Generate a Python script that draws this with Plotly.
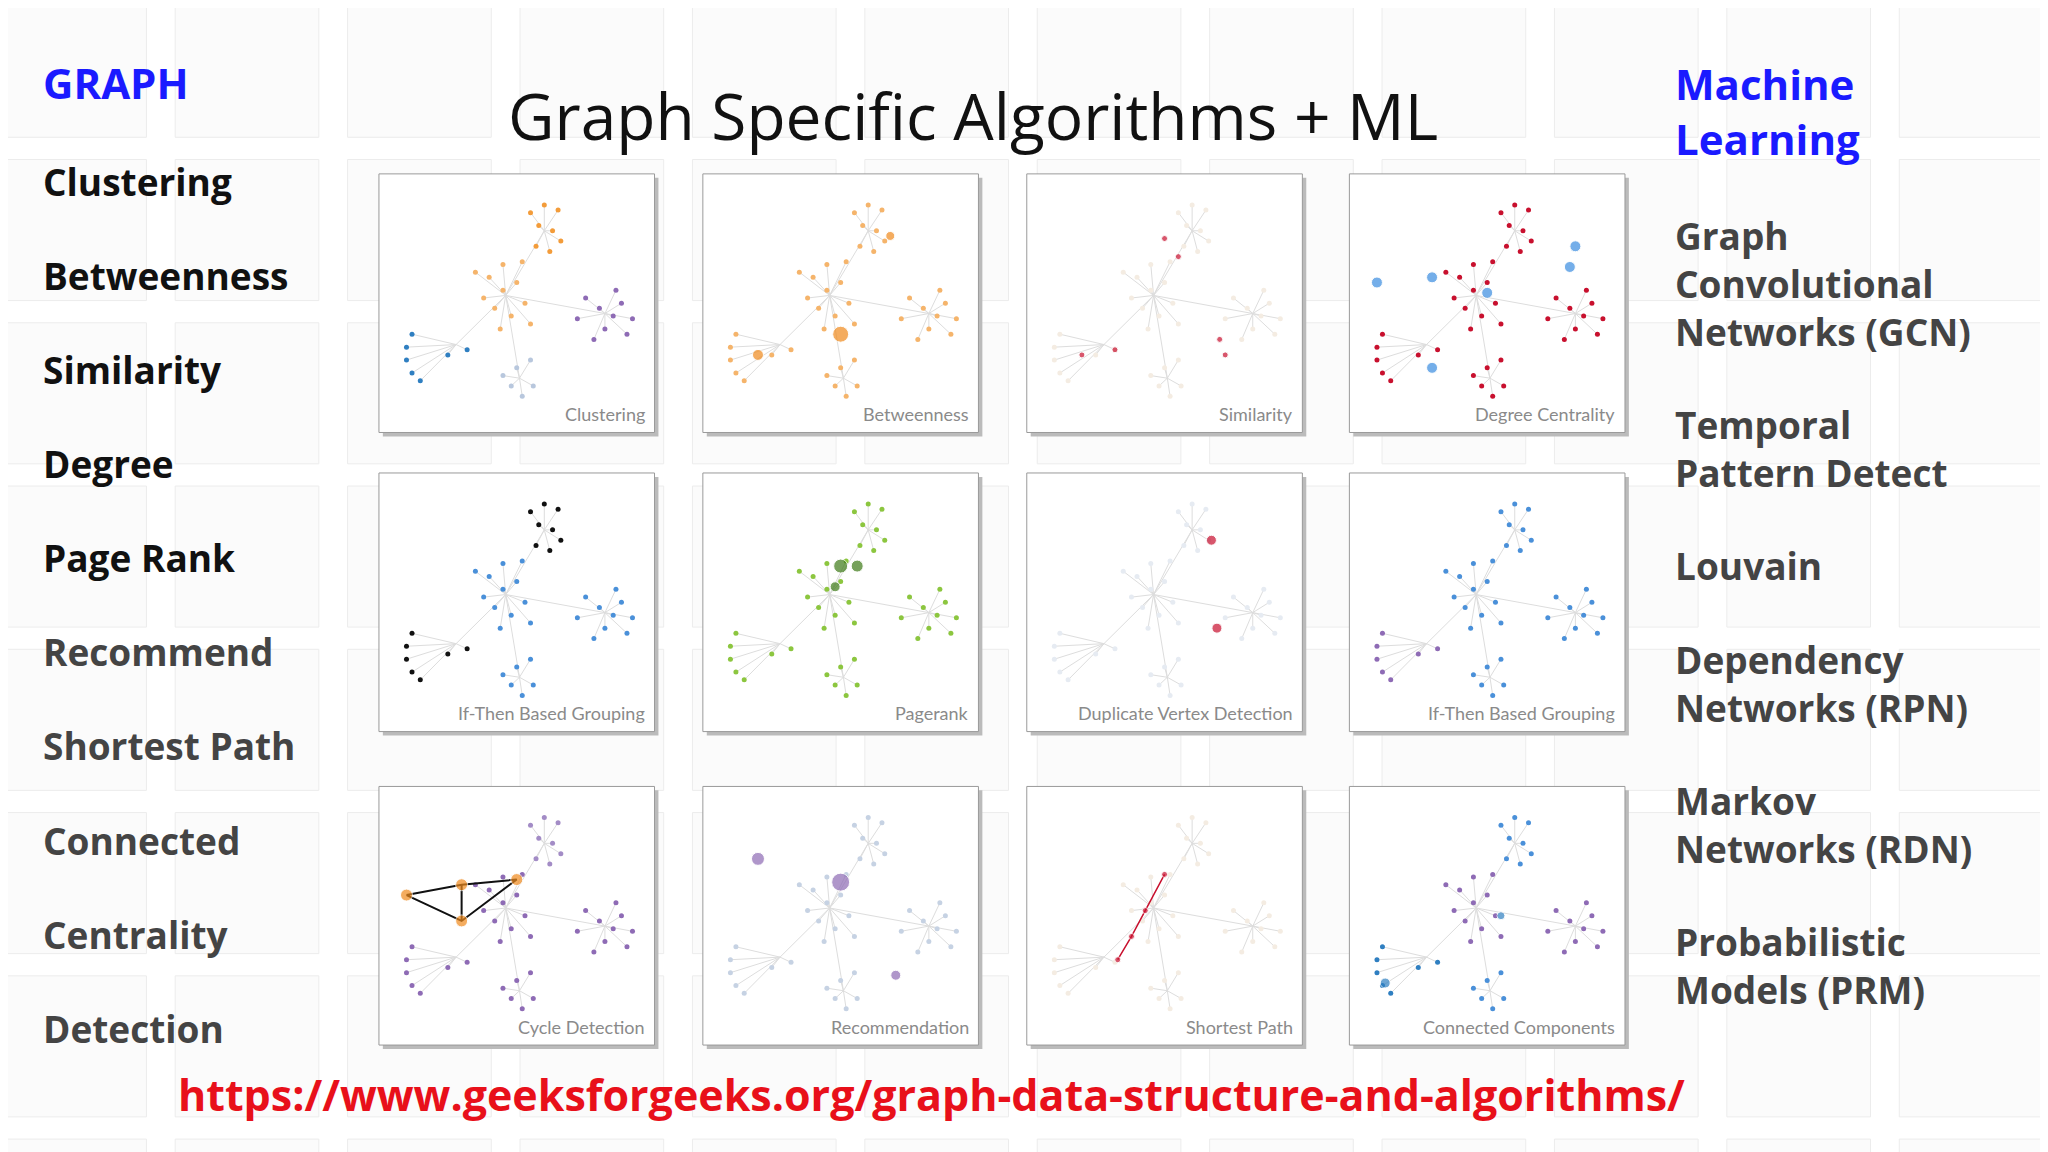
import plotly.graph_objects as go

# ---------- data ----------
LEFT_TITLE = "GRAPH"
LEFT_ITEMS = ["Clustering", "Betweenness", "Similarity", "Degree", "Page Rank",
              "Recommend", "Shortest Path", "Connected", "Centrality", "Detection"]
RIGHT_TITLE = "Machine<br>Learning"
RIGHT_ITEMS = ["Graph<br>Convolutional<br>Networks (GCN)", "Temporal<br>Pattern Detect",
               "Louvain", "Dependency<br>Networks (RPN)", "Markov<br>Networks (RDN)",
               "Probabilistic<br>Models (PRM)"]
RIGHT_Y = [217, 343, 433, 523, 631, 739]
TITLE = "Graph Specific Algorithms + ML"
URL = "https://www.geeksforgeeks.org/graph-data-structure-and-algorithms/"

CAPTIONS = ["Clustering", "Betweenness", "Similarity", "Degree Centrality",
            "If-Then Based Grouping", "Pagerank", "Duplicate Vertex Detection", "If-Then Based Grouping",
            "Cycle Detection", "Recommendation", "Shortest Path", "Connected Components"]

# node positions of the shared network (panel units), grouped by cluster
CLUSTERS = {
    "top": [(0.55, 0.85), (0.60, 0.88), (0.65, 0.86), (0.58, 0.80), (0.63, 0.78),
            (0.57, 0.72), (0.62, 0.70), (0.66, 0.74)],
    "center": [(0.40, 0.60), (0.45, 0.55), (0.50, 0.58), (0.42, 0.48), (0.48, 0.45),
               (0.53, 0.50), (0.38, 0.52), (0.35, 0.62), (0.45, 0.65), (0.52, 0.66),
               (0.55, 0.42), (0.44, 0.40)],
    "right": [(0.75, 0.52), (0.80, 0.48), (0.85, 0.45), (0.88, 0.50), (0.82, 0.40),
              (0.90, 0.38), (0.78, 0.36), (0.86, 0.55), (0.92, 0.44), (0.72, 0.44)],
    "left": [(0.12, 0.38), (0.10, 0.33), (0.10, 0.28), (0.12, 0.23), (0.15, 0.20),
             (0.25, 0.30), (0.32, 0.32)],
    "bottom": [(0.50, 0.25), (0.48, 0.18), (0.52, 0.14), (0.56, 0.18), (0.45, 0.22),
               (0.55, 0.28)],
}
HUB = {"top": (0.60, 0.78), "center": (0.46, 0.53), "right": (0.82, 0.46),
       "left": (0.28, 0.34), "bottom": (0.51, 0.21)}

# colour of each cluster per panel, plus highlighted big nodes
PANEL_COLORS = [
    {"top": "#f39c3a", "center": "#f5b46b", "right": "#8e6bb5", "left": "#2f7fc1", "bottom": "#b8c7dd"},
    {k: "#f5b46b" for k in HUB},
    {k: "#f4ece2" for k in HUB},
    {k: "#c8102e" for k in HUB},
    {"top": "#111111", "center": "#4a90d9", "right": "#4a90d9", "left": "#111111", "bottom": "#4a90d9"},
    {k: "#8cc63f" for k in HUB},
    {k: "#e6ebf2" for k in HUB},
    {"top": "#4a90d9", "center": "#4a90d9", "right": "#4a90d9", "left": "#8e6bb5", "bottom": "#4a90d9"},
    {"top": "#a38cc6", "center": "#8e6bb5", "right": "#8e6bb5", "left": "#8e6bb5", "bottom": "#8e6bb5"},
    {k: "#c6d2e3" for k in HUB},
    {k: "#f4ece2" for k in HUB},
    {"top": "#4a90d9", "center": "#8e6bb5", "right": "#8e6bb5", "left": "#2f7fc1", "bottom": "#4a90d9"},
]
HIGHLIGHTS = [
    ([], "#000", 0),
    ([(0.50, 0.38), (0.20, 0.30), (0.68, 0.76)], "#f08a1c", [16, 11, 9]),
    ([(0.50, 0.75), (0.55, 0.68), (0.20, 0.30), (0.32, 0.32), (0.70, 0.36), (0.72, 0.30)], "#c8102e", [6] * 6),
    ([(0.30, 0.60), (0.50, 0.54), (0.80, 0.64), (0.10, 0.58), (0.30, 0.25), (0.82, 0.72)], "#3a8de0", [11] * 6),
    ([], "#000", 0),
    ([(0.50, 0.64), (0.56, 0.64), (0.48, 0.56)], "#3d7a16", [14, 12, 10]),
    ([(0.67, 0.74), (0.69, 0.40)], "#c8102e", [10, 10]),
    ([], "#000", 0),
    ([(0.10, 0.58), (0.30, 0.62), (0.50, 0.64), (0.30, 0.48)], "#f08a1c", [12] * 4),
    ([(0.50, 0.63), (0.20, 0.72), (0.70, 0.27)], "#8e6bb5", [18, 13, 10]),
    ([(0.50, 0.66), (0.43, 0.52), (0.38, 0.42), (0.33, 0.33)], "#c8102e", [6] * 4),
    ([(0.13, 0.24), (0.55, 0.50)], "#2f7fc1", [10, 8]),
]

# ---------- layout geometry (reference px at 1568x882) ----------
W, H = 1568.0, 882.0
OFF = 6  # the page body margin shifts everything by ~6 ref px
COL_X = [290, 538, 786, 1033]
ROW_Y = [133, 362, 602]
PW, PH = 211, 198


def fx(px):
    return (px - OFF) / W


def fy(py):
    return 1 - (py - OFF) / H


fig = go.Figure()
shapes = []
annotations = []

# faint background tiles
for ty in range(-5, 882, 125):
    for tx in range(0, 1568, 132):
        shapes.append(dict(type="rect", xref="paper", yref="paper",
                           x0=fx(tx + 2), x1=fx(tx + 112), y0=fy(ty + 110), y1=fy(ty + 2),
                           line=dict(color="#ececec", width=1), fillcolor="#fbfbfb", layer="below"))

for i in range(12):
    r, c = divmod(i, 4)
    x0, y0 = COL_X[c], ROW_Y[r]
    ax = "" if i == 0 else str(i + 1)
    fig.layout["xaxis" + ax] = dict(domain=[fx(x0), fx(x0 + PW)], range=[0, 1], visible=False,
                                    anchor="y" + ax)
    fig.layout["yaxis" + ax] = dict(domain=[fy(y0 + PH), fy(y0)], range=[0, 1], visible=False,
                                    anchor="x" + ax)
    shapes.append(dict(type="rect", xref="paper", yref="paper",
                       x0=fx(x0 + 3), x1=fx(x0 + PW + 3), y0=fy(y0 + PH + 3), y1=fy(y0 + 3),
                       line=dict(width=0), fillcolor="#bbbbbb", layer="below"))
    shapes.append(dict(type="rect", xref="paper", yref="paper",
                       x0=fx(x0), x1=fx(x0 + PW), y0=fy(y0 + PH), y1=fy(y0),
                       line=dict(color="#9a9a9a", width=1), fillcolor="white", layer="below"))

    colors = PANEL_COLORS[i]
    ex, ey = [], []
    for name, pts in CLUSTERS.items():
        hx, hy = HUB[name]
        for px, py in pts:
            ex += [hx, px, None]
            ey += [hy, py, None]
        if name != "center":
            ex += [hx, HUB["center"][0], None]
            ey += [hy, HUB["center"][1], None]
    fig.add_trace(go.Scatter(x=ex, y=ey, mode="lines", xaxis="x" + ax, yaxis="y" + ax,
                             line=dict(color="#dddddd", width=1), hoverinfo="skip", showlegend=False))
    for name, pts in CLUSTERS.items():
        fig.add_trace(go.Scatter(x=[p[0] for p in pts], y=[p[1] for p in pts], mode="markers",
                                 xaxis="x" + ax, yaxis="y" + ax, showlegend=False,
                                 marker=dict(color=colors[name], size=5)))
    hl, hcol, hsize = HIGHLIGHTS[i]
    if hl:
        if i == 8:
            lx = [hl[0][0], hl[1][0], hl[2][0], hl[3][0], hl[0][0], None, hl[1][0], hl[3][0]]
            ly = [hl[0][1], hl[1][1], hl[2][1], hl[3][1], hl[0][1], None, hl[1][1], hl[3][1]]
            fig.add_trace(go.Scatter(x=lx, y=ly, mode="lines", xaxis="x" + ax, yaxis="y" + ax,
                                     line=dict(color="#111", width=2), showlegend=False))
        if i == 10:
            fig.add_trace(go.Scatter(x=[p[0] for p in hl], y=[p[1] for p in hl], mode="lines",
                                     xaxis="x" + ax, yaxis="y" + ax,
                                     line=dict(color="#c8102e", width=1.5), showlegend=False))
        fig.add_trace(go.Scatter(x=[p[0] for p in hl], y=[p[1] for p in hl], mode="markers",
                                 xaxis="x" + ax, yaxis="y" + ax, showlegend=False,
                                 marker=dict(color=hcol, size=hsize)))
    annotations.append(dict(text=CAPTIONS[i], xref="paper", yref="paper",
                            x=fx(x0 + PW - 6), y=fy(y0 + PH - 4), xanchor="right", yanchor="bottom",
                            showarrow=False, font=dict(size=18, color="#8a8a8a", family="Lato")))

FONT = "Open Sans"


def label(text, x, y, size, color, anchor="left"):
    annotations.append(dict(text=text, xref="paper", yref="paper", x=fx(x), y=fy(y),
                            xanchor=anchor, yanchor="middle", align="left", showarrow=False,
                            font=dict(size=size, color=color, family=FONT)))


label(TITLE, 745, 88, 64, "#111", anchor="center")
label("<b>" + LEFT_TITLE + "</b>", 31, 63, 42, "#1a1aff")
for k, item in enumerate(LEFT_ITEMS):
    label("<b>" + item + "</b>", 31, 139 + 72 * k, 37, "#111" if k < 5 else "#444")
label("<b>" + RIGHT_TITLE + "</b>", 1281, 85, 42, "#1a1aff")
for item, yy in zip(RIGHT_ITEMS, RIGHT_Y):
    label("<b>" + item + "</b>", 1281, yy, 37, "#444")
label("<b>" + URL + "</b>", 713, 838, 43, "#e8101a", anchor="center")

fig.update_layout(shapes=shapes, annotations=annotations, width=2048, height=1152,
                  margin=dict(l=0, r=0, t=0, b=0), plot_bgcolor="white", paper_bgcolor="white")

fig.write_html("out.html")
